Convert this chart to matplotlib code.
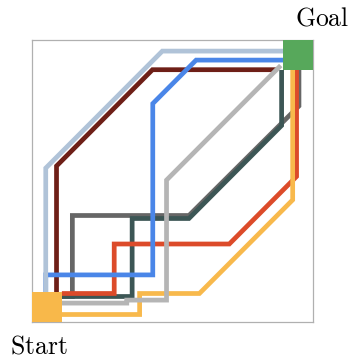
import matplotlib
matplotlib.use("Agg")
import matplotlib.pyplot as plt
from matplotlib.patches import Rectangle

plt.rcParams['mathtext.fontset'] = 'cm'

# grid size and the start / goal regions (grid cells)
grid_size = 94
start_xy = (0, 0)
goal_xy = (84, 84)
region_size = 10

# paths, waypoints in grid cells, drawn bottom to top
dark_gray_x = [10, 13.5, 13.5, 52.5, 89.3, 89.3]
dark_gray_y = [8.5, 8.5, 35.5, 35.5, 72, 84]

dark_slate_x = [10, 33.5, 33.5, 52.5, 83.5, 83.5]
dark_slate_y = [8.5, 8.5, 34.5, 34.5, 65.5, 84]

red_x = [10, 27.5, 27.5, 66, 88.5, 88.5]
red_y = [9.5, 9.5, 26, 26, 48.5, 84]

orange_x = [10, 36, 36, 56, 87.2, 87.2]
orange_y = [2.5, 2.5, 9.5, 9.5, 40.7, 84]

maroon_x = [8.2, 8.2, 40.3, 82]
maroon_y = [10, 52, 84.1, 84.1]

blue_x = [4.6, 4.6, 40.4, 40.4, 54.9, 84]
blue_y = [10, 15.7, 15.7, 72.8, 87.3, 87.3]

light_blue_x = [4.6, 4.6, 43.6, 84]
light_blue_y = [10, 51.3, 90.3, 90.3]

gray_x = [10, 31.7, 31.7, 45, 45, 83.2]
gray_y = [6.3, 6.3, 7.3, 7.3, 47.3, 85.5]

paths = [
    (dark_gray_x, dark_gray_y, "#666666"),
    (dark_slate_x, dark_slate_y, "#3c5655"),
    (red_x, red_y, "#dc4b2a"),
    (orange_x, orange_y, "#f8b94c"),
    (maroon_x, maroon_y, "#6e1f17"),
    (blue_x, blue_y, "#4a86e8"),
    (light_blue_x, light_blue_y, "#b0c3d8"),
    (gray_x, gray_y, "#b5b5b5"),
]

fig = plt.figure(figsize=(3.51, 3.59), dpi=100)
ax = fig.add_axes([32 / 351, 37 / 359, 281 / 351, 282 / 359])

for i, (px, py, c) in enumerate(paths):
    ax.plot(px, py, color=c, linewidth=3.4, solid_joinstyle='miter',
            solid_capstyle='butt', zorder=2 + i)

ax.add_patch(Rectangle(start_xy, region_size, region_size, color="#f8b84a", lw=0, zorder=20))
ax.add_patch(Rectangle(goal_xy, region_size, region_size, color="#57a85b", lw=0, zorder=20))

ax.set_xlim(0, grid_size)
ax.set_ylim(0, grid_size)
ax.set_xticks([])
ax.set_yticks([])
for s in ax.spines.values():
    s.set_color("#b0b0b0")
    s.set_linewidth(0.9)

fig.text(10 / 351, 6 / 359, r'$\mathrm{Start}$', fontsize=18.5, va='baseline', ha='left')
fig.text(295 / 351, 333 / 359, r'$\mathrm{Goal}$', fontsize=18.5, va='baseline', ha='left')

fig.savefig("out.png", dpi=100)
